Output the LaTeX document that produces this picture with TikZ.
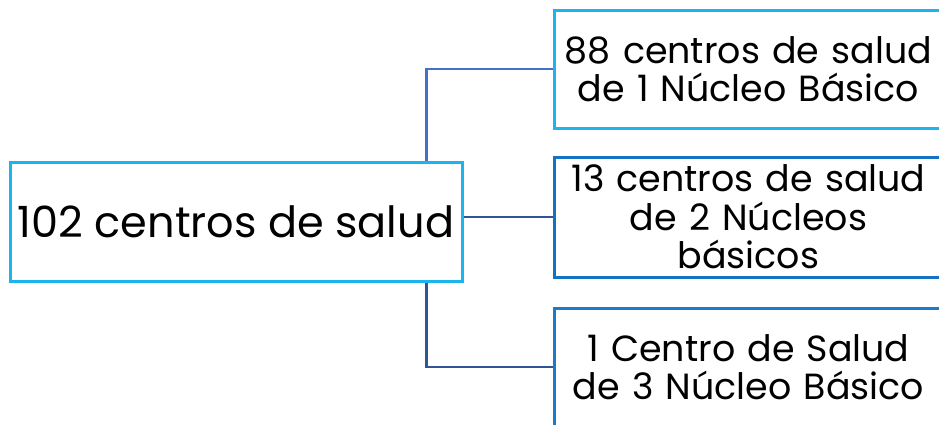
\documentclass[tikz,border=0pt]{standalone}
\usepackage{fontspec}
\setmainfont{Poppins}
\usetikzlibrary{positioning, calc}

\definecolor{lightcyan}{HTML}{1DB4EC}
\definecolor{midblue}{HTML}{1572C2}
\definecolor{lowblue}{HTML}{1D7BCB}
\definecolor{linetop}{HTML}{4472C4}
\definecolor{linedark}{HTML}{2F5597}

\begin{document}
\begin{tikzpicture}[
    x=1pt, y=-1pt,
    box/.style={draw, line width=3pt, fill=white, align=center, inner sep=0pt},
    mainbox/.style={box, draw=lightcyan, minimum width=452pt, minimum height=119pt,
      font=\fontsize{43}{50}\selectfont},
    sidebox/.style={box, minimum width=389pt, text width=380pt,
      font=\fontsize{36.4}{38.5}\selectfont},
    link/.style={line width=2.6pt},
  ]
  \useasboundingbox (0,0) rectangle (939,424);
  \clip (0,0) rectangle (939,424);

  % Boxes
  \node[mainbox] (main) at (236,221.5) {102 centros de salud};
  \node[sidebox, draw=lightcyan, minimum height=118pt] (top) at (748.5,69)
    {88 centros de salud\\de 1 Núcleo Básico};
  \node[sidebox, draw=midblue, minimum height=120pt] (mid) at (748.5,217)
    {13 centros de salud\\de 2 Núcleos\\básicos};
  \node[sidebox, draw=lowblue, minimum height=118pt] (low) at (748.5,367)
    {1 Centro de Salud\\de 3 Núcleo Básico};

  % Connectors
  \draw[link, linetop] ([xshift=-37pt]main.north east) |- (top.west);
  \draw[link, linedark] (main.east |- mid.west) -- (mid.west);
  \draw[link, linedark] ([xshift=-37pt]main.south east) |- (low.west);
\end{tikzpicture}
\end{document}
